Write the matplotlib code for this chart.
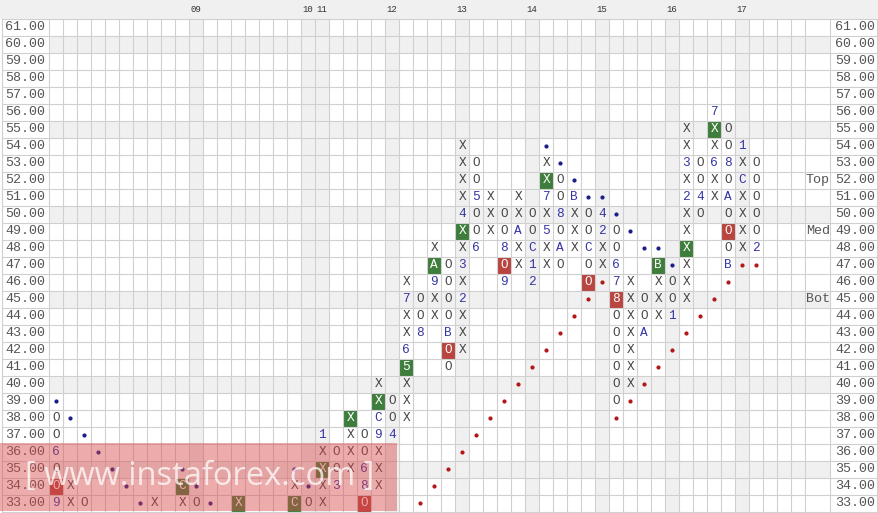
import matplotlib
matplotlib.use('Agg')
import matplotlib.pyplot as plt
from matplotlib.patches import Rectangle

# price rows (top to bottom) and column count of the point & figure grid
prices = list(range(61, 32, -1))
n_cols = 54

# month labels on top and the shaded columns they sit on
month_cols = [10, 18, 19, 24, 29, 34, 39, 44, 49]
month_labels = ['09', '10', '11', '12', '13', '14', '15', '16', '17']
shaded_rows = [60, 55, 50, 45, 40, 35]

# columns: column index -> (lowest price, symbols from bottom to top)
columns = {
    0: (33, '9OO6OO'), 1: (33, 'XX'), 2: (33, 'O'), 7: (33, 'X'),
    9: (33, 'XC'), 10: (33, 'O'), 13: (33, 'X'), 17: (33, 'CX'),
    18: (33, 'O'), 19: (33, 'XXXX1'), 20: (34, '3OO'), 21: (35, 'XXXX'),
    22: (33, 'O86OO'), 23: (34, 'XXX9CXX'), 24: (37, '4OO'),
    25: (38, 'XXX56XX7X'), 26: (43, '8OO'), 27: (44, 'XX9AX'),
    28: (41, 'OOBOOOO'), 29: (42, 'XXX2X3XX4XXXX'), 30: (48, '6OO5OO'),
    31: (49, 'XXX'), 32: (46, '9O8OO'), 33: (47, 'XXAXX'),
    34: (46, '21COO'), 35: (47, 'XX5X7XX'), 36: (47, 'OAO8OO'),
    37: (48, 'XXXB'), 38: (46, 'OOCOO'), 39: (47, 'XX24'),
    40: (39, 'OOOOOO876OO'), 41: (40, 'XXXXXXX'), 42: (43, 'AOO'),
    43: (44, 'XXXB'), 44: (44, '1OO'), 45: (45, 'XXXXXX2X3XX'),
    46: (50, 'O4OO'), 47: (51, 'XX6XX7'), 48: (47, 'BOOOAO8OO'),
    49: (48, 'XXXXCX1'), 50: (48, '2OOOOO'),
}

green_boxes = [(9, 34), (13, 33), (17, 33), (19, 35), (21, 38), (23, 39), (25, 41),
               (27, 47), (29, 49), (35, 52), (43, 47), (45, 48), (47, 55)]
red_boxes = [(0, 34), (22, 33), (28, 42), (32, 47), (38, 46), (40, 45), (48, 49)]

blue_dot_cols = [0, 1, 2, 3, 4, 5, 6, 9, 10, 11, 17, 18,
                 35, 36, 37, 38, 39, 40, 41, 42, 43, 44]
blue_dot_rows = [39, 38, 37, 36, 35, 34, 33, 35, 34, 33, 35, 34,
                 54, 53, 52, 51, 51, 50, 49, 48, 48, 47]
red_dot_cols = [26, 27, 28, 29, 30, 31, 32, 33, 34, 35, 36, 37, 38, 39,
                40, 41, 42, 43, 44, 45, 46, 47, 48, 49, 50]
red_dot_rows = [33, 34, 35, 36, 37, 38, 39, 40, 41, 42, 43, 44, 45, 46,
                38, 39, 40, 41, 42, 43, 44, 45, 46, 47, 47]

level_names = ['Top', 'Med', 'Bot']
level_prices = [52, 49, 45]

W, H = 879, 513
x_org, cw = 49.3, 14.0      # pixel left of column 0, column width
y_org, rh = 18.7, 17.0      # pixel top of first row, row height


def px(x):
    return (x - x_org) / cw


def py(y):
    return prices[0] + 0.5 - (y - y_org) / rh


fig = plt.figure(figsize=(W / 100, H / 100), dpi=100)
ax = fig.add_axes([0, 0, 1, 1])
ax.set_xlim(px(0), px(W))
ax.set_ylim(py(H), py(0))
ax.axis('off')

grid_c = '#d0d0d0'
shade = '#f0f0f0'
lo, hi = prices[-1] - 0.5, prices[0] + 0.5

# header band
ax.add_patch(Rectangle((px(0), hi), px(W) - px(0), py(0) - hi, color=shade, lw=0, zorder=0))
for c, lab in zip(month_cols, month_labels):
    ax.text(c + 0.08, py(9.5), lab, fontsize=6.5, family='Liberation Mono',
            color='#333333', ha='left', va='center')

# shaded rows and month columns
for p in shaded_rows:
    ax.add_patch(Rectangle((0, p - 0.5), px(830), 1, color=shade, lw=0, zorder=0))
for c in month_cols:
    ax.add_patch(Rectangle((c, lo), 1, hi - lo, color=shade, lw=0, zorder=0))

# boxes
for c, p in green_boxes:
    ax.add_patch(Rectangle((c, p - 0.5), 1, 1, color='#3f7d3c', lw=0, zorder=1))
for c, p in red_boxes:
    ax.add_patch(Rectangle((c, p - 0.5), 1, 1, color='#b8453f', lw=0, zorder=1))

# grid
for k in range(n_cols + 1):
    ax.plot([k, k], [lo, hi], color=grid_c, lw=0.8, zorder=2)
for x in [1.5, 830, 877.5]:
    ax.plot([px(x), px(x)], [lo, hi], color=grid_c, lw=0.8, zorder=2)
for i in range(len(prices) + 1):
    y = hi - i
    ax.plot([px(1.5), px(877.5)], [y, y], color=grid_c, lw=0.8, zorder=2)

# price labels
for p in prices:
    ax.text(px(25), p, f'{p:.2f}', fontsize=9.6, family='Liberation Mono',
            color='#555555', ha='center', va='center', zorder=3)
    ax.text(px(875), p, f'{p:.2f}', fontsize=9.6, family='Liberation Mono',
            color='#555555', ha='right', va='center', zorder=3)
for name, p in zip(level_names, level_prices):
    ax.text(px(806), p, name, fontsize=9.6, family='Liberation Mono',
            color='#555555', ha='left', va='center', zorder=3)

# X / O symbols and month markers
boxed = set(green_boxes) | set(red_boxes)
for c, (start, syms) in columns.items():
    for i, s in enumerate(syms):
        p = start + i
        if (c, p) in boxed:
            col = 'white'
        elif s in 'XO':
            col = '#444444'
        else:
            col = '#3535a5'
        ax.text(c + 0.5, p, s, fontsize=9.2, family='Liberation Mono',
                color=col, ha='center', va='center', zorder=3)

# trend line dots
ax.plot([c + 0.5 for c in blue_dot_cols], blue_dot_rows, 'o', ms=2.0,
        color='#1c1c8a', zorder=3)
ax.plot([c + 0.5 for c in red_dot_cols], red_dot_rows, 'o', ms=2.0,
        color='#b01818', zorder=3)

# watermark
ax.add_patch(Rectangle((px(0), py(511)), px(397) - px(0), py(443) - py(511),
                       color='#d94848', alpha=0.45, lw=0, zorder=5))
wm = ax.text(px(200), py(476), '[ www.instaforex.com ]', fontsize=28,
             family='Open Sans', color='white', alpha=0.75,
             ha='center', va='center', zorder=6)
r = fig.canvas.get_renderer()
w = wm.get_window_extent(renderer=r).width
wm.set_fontsize(28 * 350 / w)

fig.savefig('out.png', dpi=100)
